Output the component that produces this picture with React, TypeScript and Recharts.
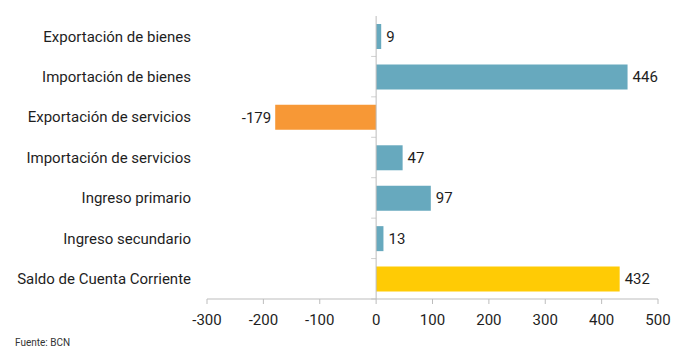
import React from "react";
import { BarChart, Bar, XAxis, YAxis, Cell, LabelList, ReferenceLine } from "recharts";

const categories = [
  "Exportación de bienes",
  "Importación de bienes",
  "Exportación de servicios",
  "Importación de servicios",
  "Ingreso primario",
  "Ingreso secundario",
  "Saldo de Cuenta Corriente",
];
const values = [9, 446, -179, 47, 97, 13, 432];
const barColors = ["#67A9BE", "#67A9BE", "#F79836", "#67A9BE", "#67A9BE", "#67A9BE", "#FFCB05"];
const xTicks = [-300, -200, -100, 0, 100, 200, 300, 400, 500];
const sourceText = "Fuente: BCN";

const data = categories.map((name, i) => ({ name, value: values[i] }));

const FONT = "Roboto, 'Open Sans', sans-serif";
const TEXT = "#1e1e1e";
const GRID = "#bdbdbd";

const ZeroLine = (props: any) => {
  const { x1, y1, x2, y2 } = props;
  const n = categories.length;
  const step = (y2 - y1) / n;
  const ticks = [];
  for (let i = 0; i < n; i++) {
    const y = y1 + i * step;
    ticks.push(<line key={i} x1={x1 - 5} x2={x1} y1={y} y2={y} stroke="#d0d0d0" strokeWidth={1} />);
  }
  return (
    <g>
      {ticks}
      <line x1={x1} y1={y1} x2={x2} y2={y2} stroke={GRID} strokeWidth={1} />
    </g>
  );
};

const ValueLabel = (props: any) => {
  const { x, y, width, height, value } = props;
  const left = Math.min(x, x + width);
  const right = Math.max(x, x + width);
  const cy = y + height / 2;
  if (value < 0) {
    return (
      <text x={left - 4} y={cy} dy="0.35em" textAnchor="end" fontSize={15} fill={TEXT} fontFamily={FONT}>
        {value}
      </text>
    );
  }
  return (
    <text x={right + 5} y={cy} dy="0.35em" textAnchor="start" fontSize={15} fill={TEXT} fontFamily={FONT}>
      {value}
    </text>
  );
};

export default function App() {
  return (
    <div style={{ position: "absolute", left: 0, top: 0, width: 686, height: 349, background: "#fff", overflow: "hidden" }}>
      <BarChart
        width={686}
        height={349}
        data={data}
        layout="vertical"
        margin={{ top: 16, right: 28, bottom: 20, left: 0 }}
      >
        <XAxis
          type="number"
          domain={[-300, 500]}
          ticks={xTicks}
          interval={0}
          height={30}
          axisLine={{ stroke: GRID }}
          tickLine={{ stroke: GRID }}
          tickSize={5}
          tickMargin={10}
          tick={{ fontSize: 15, fill: TEXT, fontFamily: FONT }}
        />
        <YAxis
          type="category"
          dataKey="name"
          width={207}
          interval={0}
          axisLine={false}
          tickLine={false}
          tickSize={6}
          tickMargin={10}
          tick={{ fontSize: 15, fill: TEXT, fontFamily: FONT }}
        />
        <Bar dataKey="value" barSize={25} isAnimationActive={false}>
          {data.map((d, i) => (
            <Cell key={d.name} fill={barColors[i]} />
          ))}
          <LabelList dataKey="value" content={ValueLabel} />
        </Bar>
        <ReferenceLine x={0} shape={ZeroLine} />
      </BarChart>
      <div
        style={{
          position: "absolute",
          left: 15,
          top: 337,
          fontSize: 10,
          color: "#333",
          fontFamily: FONT,
          lineHeight: "11px",
          whiteSpace: "nowrap",
        }}
      >
        {sourceText}
      </div>
    </div>
  );
}
